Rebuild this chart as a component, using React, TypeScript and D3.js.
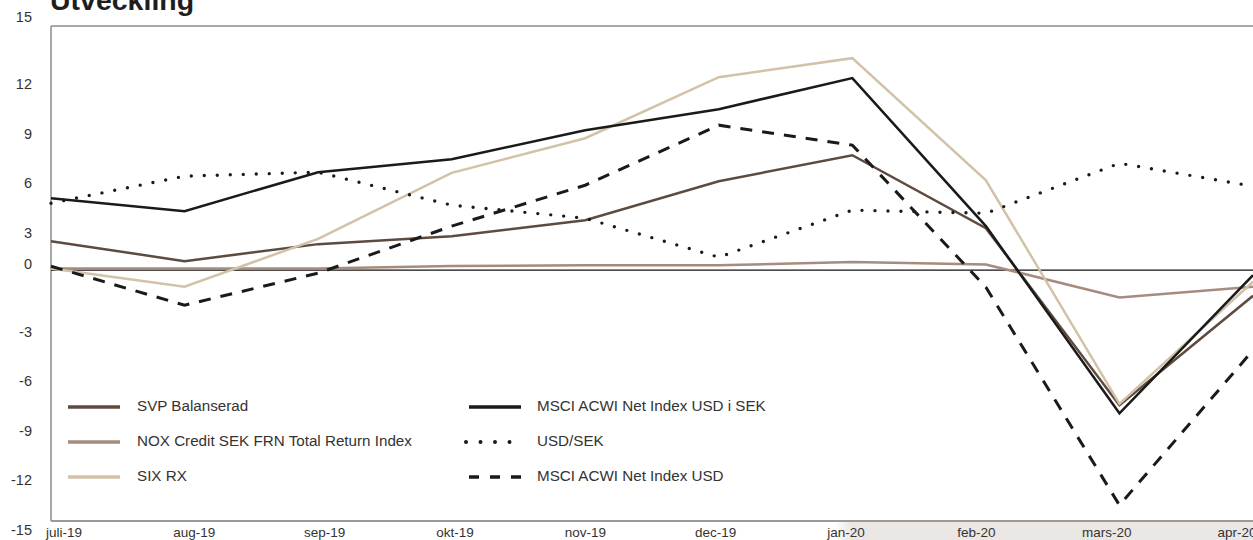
import React from "react";
import * as d3 from "d3";

const months = ["juli-19", "aug-19", "sep-19", "okt-19", "nov-19", "dec-19", "jan-20", "feb-20", "mars-20", "apr-20"];
const yTicks = [15, 12, 9, 6, 3, 0, -3, -6, -9, -12, -15];

const svp = [1.76, 0.55, 1.58, 2.06, 3.03, 5.39, 6.97, 2.55, -8.18, -1.55];
const nox = [0.1, 0.1, 0.1, 0.25, 0.3, 0.3, 0.5, 0.35, -1.65, -1.0];
const sixrx = [0.1, -1.0, 1.9, 5.9, 8.0, 11.7, 12.85, 5.45, -8.1, -0.7];
const msciSek = [4.36, 3.58, 5.94, 6.73, 8.48, 9.76, 11.64, 2.67, -8.67, -0.3];
const usdsek = [4.06, 5.7, 5.94, 3.94, 3.15, 0.79, 3.64, 3.45, 6.48, 5.09];
const msciUsd = [0.24, -2.12, -0.18, 2.67, 5.15, 8.79, 7.58, -1.03, -14.24, -4.85];

const seriesNames = [
  "SVP Balanserad",
  "NOX Credit SEK FRN Total Return Index",
  "SIX RX",
  "MSCI ACWI Net Index USD i SEK",
  "USD/SEK",
  "MSCI ACWI Net Index USD",
];
const seriesValues = [svp, nox, sixrx, msciSek, usdsek, msciUsd];

const styles = [
  { color: "#5e4b3f", width: 2.5, dash: undefined as string | undefined, cap: "butt" },
  { color: "#a58c7d", width: 2.5, dash: undefined, cap: "butt" },
  { color: "#d2c2a7", width: 2.5, dash: undefined, cap: "butt" },
  { color: "#1a1a1a", width: 2.5, dash: undefined, cap: "butt" },
  { color: "#1a1a1a", width: 3.4, dash: "0 13", cap: "round" },
  { color: "#1a1a1a", width: 3, dash: "12 10", cap: "butt" },
];

const W = 1253;
const H = 540;
const left = 51;
const right = 1253;
const top = 26;
const bottom = 521;

export default function App() {
  const x = d3.scalePoint<string>().domain(months).range([left, right]);
  const xLab = d3.scalePoint<string>().domain(months).range([64, 1237]);
  const y = d3.scaleLinear().domain([-15.2, 14.8]).range([bottom, top]);
  const line = d3
    .line<number>()
    .x((_, i) => x(months[i]) as number)
    .y((d) => y(d));

  const font = "'Liberation Sans', Arial, Helvetica, sans-serif";

  const legendCols = [
    { sx: 68, tx: 137 },
    { sx: 469, tx: 537 },
  ];
  const legendRows = [407, 442, 477];

  return (
    <svg
      width={W}
      height={H}
      style={{ position: "absolute", left: 0, top: 0, background: "#fff" }}
      fontFamily={font}
    >
      <defs>
        <linearGradient id="shade" x1="0" x2="1" y1="0" y2="0">
          <stop offset="0" stopColor="#ebe7e4" stopOpacity="0" />
          <stop offset="0.04" stopColor="#ebe7e4" stopOpacity="1" />
          <stop offset="1" stopColor="#ebe7e4" stopOpacity="1" />
        </linearGradient>
      </defs>
      <rect x={835} y={bottom} width={W - 835} height={H - bottom} fill="url(#shade)" />

      <text x={50} y={10} fontSize={28.5} fontWeight="bold" fill="#1e1e1e">
        Utveckling
      </text>

      {/* frame */}
      <line x1={left} x2={right} y1={top} y2={top} stroke="#8c8c8c" strokeWidth={1.5} />
      <line x1={left} x2={left} y1={top} y2={bottom} stroke="#8c8c8c" strokeWidth={1.5} />
      <line x1={left} x2={right} y1={bottom} y2={bottom} stroke="#9a9a9a" strokeWidth={2} />

      {/* zero line */}
      <line x1={left} x2={right} y1={y(0)} y2={y(0)} stroke="#111" strokeWidth={1.2} />

      {yTicks.map((t) => (
        <text
          key={t}
          x={32}
          y={y(t) + (t === 15 || t === 0 ? -5 : 13)}
          fontSize={14.5}
          fill="#333"
          textAnchor="end"
          dominantBaseline="middle"
        >
          {t}
        </text>
      ))}

      {months.map((m) => (
        <text key={m} x={xLab(m)} y={537} fontSize={13.5} fill="#333" textAnchor="middle">
          {m}
        </text>
      ))}

      {seriesValues.map((vals, i) => (
        <path
          key={seriesNames[i]}
          d={line(vals) || ""}
          fill="none"
          stroke={styles[i].color}
          strokeWidth={styles[i].width}
          strokeDasharray={styles[i].dash}
          strokeLinecap={styles[i].cap as any}
          strokeLinejoin="miter"
        />
      ))}

      {seriesNames.map((name, i) => {
        const col = legendCols[Math.floor(i / 3)];
        const ry = legendRows[i % 3];
        const st = styles[i];
        let sw: React.ReactNode;
        if (i === 4) {
          sw = (
            <line
              x1={466}
              x2={520}
              y1={ry}
              y2={ry}
              stroke={st.color}
              strokeWidth={4}
              strokeDasharray="0 14.5"
              strokeLinecap="round"
            />
          );
        } else if (i === 5) {
          sw = (
            <line
              x1={col.sx}
              x2={col.sx + 52}
              y1={ry}
              y2={ry}
              stroke={st.color}
              strokeWidth={3.5}
              strokeDasharray="10 11"
            />
          );
        } else {
          sw = (
            <line x1={col.sx} x2={col.sx + 52} y1={ry} y2={ry} stroke={st.color} strokeWidth={3.5} />
          );
        }
        return (
          <g key={name}>
            {sw}
            <text x={col.tx} y={ry} fontSize={15.2} fill="#333" dominantBaseline="middle">
              {name}
            </text>
          </g>
        );
      })}
    </svg>
  );
}
